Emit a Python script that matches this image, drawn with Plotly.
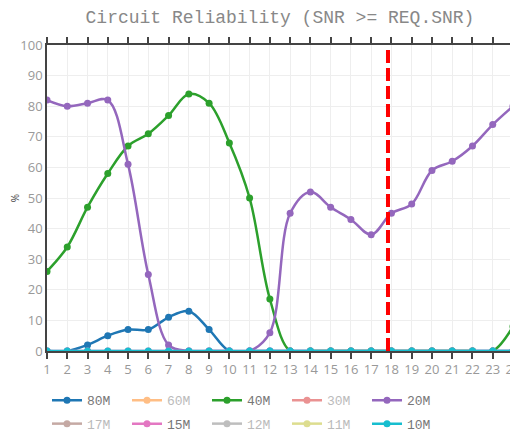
import plotly.graph_objects as go

hours = list(range(1, 25))

bands = ["80M", "60M", "40M", "30M", "20M", "17M", "15M", "12M", "11M", "10M"]
shown = ["80M", "40M", "20M", "15M", "10M"]

rel_80m = [0, 0, 2, 5, 7, 7, 11, 13, 7, 0, 0, 0, 0, 0, 0, 0, 0, 0, 0, 0, 0, 0, 0, 0]
rel_60m = [0] * 24
rel_40m = [26, 34, 47, 58, 67, 71, 77, 84, 81, 68, 50, 17, 0, 0, 0, 0, 0, 0, 0, 0, 0, 0, 0, 8]
rel_30m = [0] * 24
rel_20m = [82, 80, 81, 82, 61, 25, 2, 0, 0, 0, 0, 6, 45, 52, 47, 43, 38, 45, 48, 59, 62, 67, 74, 80]
rel_17m = [0] * 24
rel_15m = [0] * 24
rel_12m = [0] * 24
rel_11m = [0] * 24
rel_10m = [0] * 24

now_hour = 17.83

series = [rel_80m, rel_60m, rel_40m, rel_30m, rel_20m,
          rel_17m, rel_15m, rel_12m, rel_11m, rel_10m]

# d3 category10
colors = ['#1f77b4', '#ff7f0e', '#2ca02c', '#d62728', '#9467bd',
          '#8c564b', '#e377c2', '#7f7f7f', '#bcbd22', '#17becf']

fig = go.Figure()
for i, (name, vals, col) in enumerate(zip(bands, series, colors)):
    fig.add_trace(go.Scatter(
        x=hours, y=vals, name=name,
        mode='lines+markers',
        line=dict(shape='spline', width=2.5, color=col),
        marker=dict(size=7, color=col),
        visible=True if name in shown else 'legendonly',
        legend='legend' if i < 5 else 'legend2',
    ))

# current time marker
fig.add_shape(
    type='line', xref='x', yref='y',
    x0=now_hour, x1=now_hour, y0=0, y1=99,
    line=dict(color='red', width=4, dash='13px,5px'),
)
# right frame line
fig.add_shape(
    type='line', xref='paper', yref='paper',
    x0=1, x1=1, y0=0, y1=1,
    line=dict(color='#888', width=1.5),
)

legend_style = dict(
    orientation='h', x=0.0, xanchor='left', yref='container', yanchor='middle',
    entrywidth=35,
    font=dict(family="Courier New, monospace", size=13, color='#777'),
)

# page body has an 8px margin, margins below compensate for it
fig.update_layout(
    template='none',
    width=518, height=433,
    title=dict(
        text="Circuit Reliability (SNR >= REQ.SNR)",
        font=dict(family="Courier New, monospace", size=18, color='#888'),
        x=0.5, xref='paper', y=0.980, yref='container', yanchor='middle',
    ),
    font=dict(family="Open Sans", size=13, color='#999'),
    plot_bgcolor='white',
    paper_bgcolor='white',
    margin=dict(l=39, r=13, t=37, b=90),
    showlegend=True,
    xaxis=dict(
        range=[1, 24], dtick=1, tick0=1, automargin=False,
        showgrid=True, gridcolor='#eee',
        showline=True, linecolor='#444', linewidth=1.5,
        ticks='outside', ticklen=6, tickcolor='#444', tickwidth=1.5,
        mirror='ticks', zeroline=False,
    ),
    yaxis=dict(
        range=[0, 100], dtick=10, automargin=False,
        showgrid=True, gridcolor='#eee',
        showline=True, linecolor='#444', linewidth=1.5,
        ticks='', zeroline=False,
        title=dict(text="%", font=dict(size=10, color='#444'), standoff=8),
    ),
    legend=dict(legend_style, y=0.094),
    legend2=dict(legend_style, y=0.040),
)

fig.write_html("out.html")
